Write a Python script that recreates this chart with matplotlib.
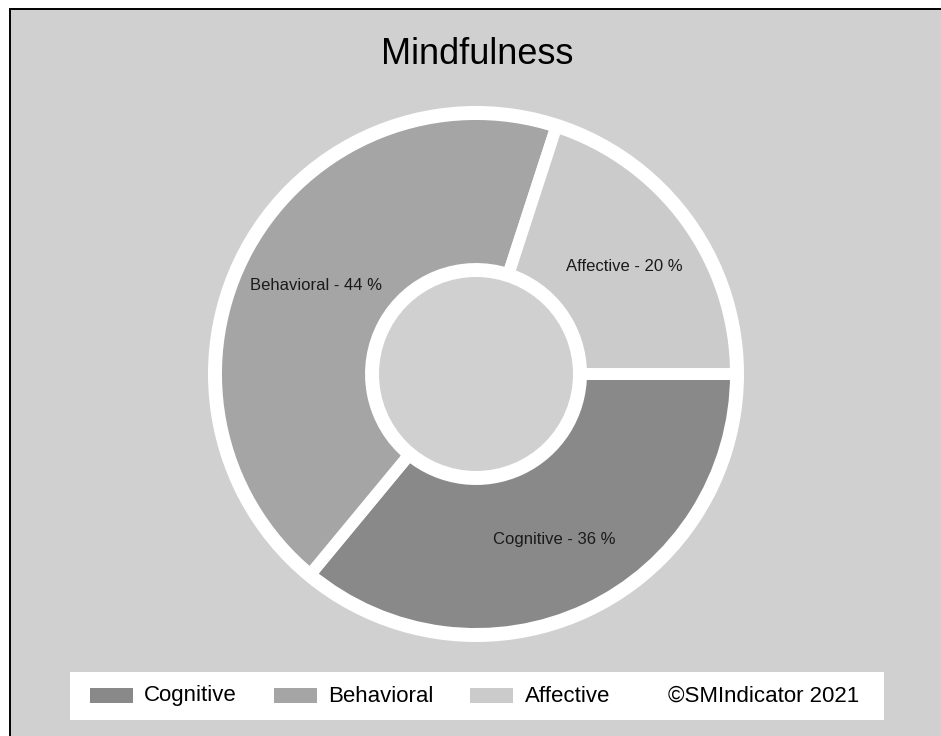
import numpy as np
import matplotlib
matplotlib.use("Agg")
import matplotlib.pyplot as plt
from matplotlib.patches import Rectangle, Circle

# ---- data ----
categories = ["Cognitive", "Behavioral", "Affective"]
values = [36, 44, 20]
colors = ["#898989", "#a5a5a5", "#cbcbcb"]
title = "Mindfulness"
copyright_text = "\u00a9SMIndicator 2021"

W, H = 941, 736
plt.rcParams['font.family'] = ['Liberation Sans', 'DejaVu Sans']

fig = plt.figure(figsize=(W / 100, H / 100), dpi=100)
fig.patch.set_facecolor("white")
ax = fig.add_axes([0, 0, 1, 1])


def Y(y):
    return H - y


BG = "#d0d0d0"
# panel with border
ax.add_patch(Rectangle((10, -20), W + 20, Y(9) + 20, facecolor=BG,
                       edgecolor="black", linewidth=1.4, zorder=0))

cx, cy = 476, Y(374)
# white disk behind the ring
ax.add_patch(Circle((cx, cy), 268, facecolor="white", edgecolor="none", zorder=1))

wedges, _ = ax.pie(values, colors=colors, startangle=0, counterclock=False,
                   radius=260, center=(cx, cy),
                   wedgeprops=dict(width=155, edgecolor="white", linewidth=8.6,
                                   zorder=2))
for w in wedges:
    w.set_zorder(2)

# hole
ax.add_patch(Circle((cx, cy), 97, facecolor=BG, edgecolor="none", zorder=3))

# labels
for w, cat, v in zip(wedges, categories, values):
    mid = np.deg2rad((w.theta1 + w.theta2) / 2)
    r = 183
    ax.text(cx + r * np.cos(mid), cy + r * np.sin(mid), f"{cat} - {v} %",
            ha="center", va="center", fontsize=12, color="#1a1a1a", zorder=4)

ax.text(477, Y(55), title, ha="center", va="center", fontsize=26,
        color="black", zorder=4)

# legend box
ax.add_patch(Rectangle((70, Y(720)), 814, 48, facecolor="white",
                       edgecolor="none", zorder=4))
sw_x = [90, 274, 470]
tx_x = [144, 328, 525]
ly = 696
for c, cat, sx, tx in zip(colors, categories, sw_x, tx_x):
    ax.add_patch(Rectangle((sx, Y(703)), 43, 15, facecolor=c,
                           edgecolor="none", zorder=5))
    ax.text(tx, Y(ly), cat, ha="left", va="center", fontsize=16,
            color="black", zorder=5)
ax.text(668, Y(ly), copyright_text, ha="left", va="center", fontsize=16,
        color="black", zorder=5)

ax.set_xlim(0, W)
ax.set_ylim(0, H)
ax.set_aspect("auto")
ax.axis("off")

fig.savefig("out.png", dpi=100, facecolor="white")
